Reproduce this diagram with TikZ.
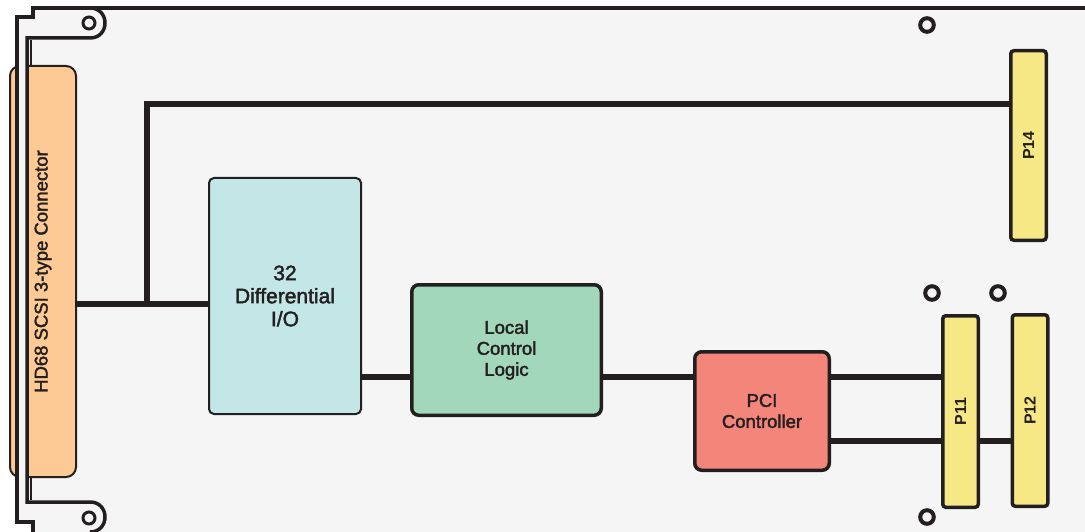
\documentclass[tikz,border=0pt]{standalone}
\usepackage{fontspec}
\setmainfont{Liberation Sans}
\newfontfamily\boardfont[FakeBold=2]{Liberation Sans}
\usepackage{tikz}
\definecolor{boardgray}{HTML}{F5F5F5}
\definecolor{ink}{HTML}{231F20}
\definecolor{diffcyan}{HTML}{C3E6E7}
\definecolor{logicgreen}{HTML}{A2D7BB}
\definecolor{pcired}{HTML}{F4857B}
\definecolor{pinyellow}{HTML}{F7E886}
\definecolor{scsiorange}{HTML}{FDCA95}

\begin{document}
\begin{tikzpicture}[x=1pt, y=-1pt,
  block/.style={draw=ink, line width=3.5pt, rounded corners=7pt, align=center, text=ink,
    inner sep=0pt, font=\boardfont\fontsize{18.5}{21}\selectfont},
  pin/.style={draw=ink, fill=pinyellow, line width=3.5pt, rounded corners=3pt, rotate=90,
    minimum height=35.5pt, text=ink, inner sep=0pt, font=\bfseries\fontsize{16}{16}\selectfont},
  wire/.style={ink, line width=6pt},
  edge/.style={ink, line width=3.5pt},
  hole/.style={ink, line width=4pt}]
\clip (0,0) rectangle (1085,532);
\fill[white] (0,0) rectangle (1085,532);
\fill[boardgray] (33,8)--(1090,8)--(1090,540)--(33,540)--(33,522)--(17,522)--(17,17)--(33,17)--cycle;
\node[draw=ink, fill=scsiorange, line width=2pt, rounded corners=10pt, rotate=90,
  minimum width=411pt, minimum height=66pt, text=ink, font=\boardfont\fontsize{18.5}{21}\selectfont]
  (hd) at (43,271.5) {\raisebox{-2pt}{HD68 SCSI 3-type Connector}};
\fill[boardgray] (17,17) rectangle (27,522);
\draw[ink, line width=2pt] (30.5,40)--(30.5,65);
\draw[ink, line width=2pt] (30.5,478)--(30.5,500);
\draw[edge] (1090,8)--(33,8)--(33,17)--(17,17)--(17,522)--(33,522)--(33,540);
\draw[edge] (90,8) .. controls (110,8) and (110,38) .. (90,38)--(27,38)--(27,502)--(90,502)
  .. controls (110,502) and (110,532) .. (90,532);
\draw[hole, line width=3pt] (89,23) circle[radius=6pt];
\draw[hole, line width=3pt] (89,518) circle[radius=6pt];
\draw[hole] (927,25) circle[radius=6.8pt];
\draw[hole] (932,293) circle[radius=6.8pt];
\draw[hole] (998,293) circle[radius=6.8pt];
\draw[hole] (927,517) circle[radius=6.8pt];
\node[block, fill=diffcyan, line width=2pt, rounded corners=5pt, minimum width=152pt, minimum height=236pt,
  font=\boardfont\fontsize{21}{23}\selectfont] (diff) at (285,296) {32\\Differential\\I/O};
\node[block, fill=logicgreen, minimum width=189.5pt, minimum height=130.5pt] (lcl) at (506.5,350)
  {Local\\Control\\Logic};
\node[block, fill=pcired, minimum width=134.5pt, minimum height=118.5pt] (pci) at (762,411)
  {PCI\\Controller};
\node[pin, minimum width=189.5pt] (p14) at (1028.5,145.5) {P14};
\node[pin, minimum width=191.5pt] (p11) at (960.5,411.5) {P11};
\node[pin, minimum width=191.5pt] (p12) at (1030,410.5) {P12};
\coordinate (tee) at (147,304);
\coordinate (bend) at (147,104);
\coordinate (busA) at (0,377);
\coordinate (busB) at (0,441);
\draw[wire] (hd.south |- tee)--(diff.west |- tee);
\draw[wire] (tee)--(bend)--(p14.north |- bend);
\draw[wire] (diff.east |- busA)--(lcl.west |- busA);
\draw[wire] (lcl.east |- busA)--(pci.west |- busA);
\draw[wire] (pci.east |- busA)--(p11.north |- busA);
\draw[wire] (pci.east |- busB)--(p11.north |- busB);
\draw[wire] (p11.south |- busB)--(p12.north |- busB);
\end{tikzpicture}
\end{document}
